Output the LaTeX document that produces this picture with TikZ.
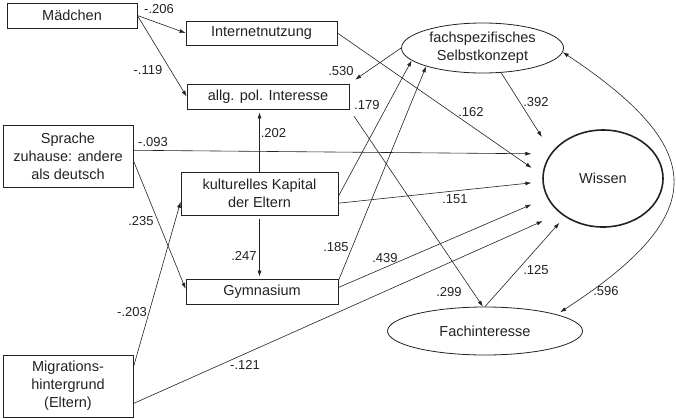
\documentclass[tikz,border=0pt]{standalone}
\usepackage{fontspec}
\setmainfont{Liberation Sans}
\usetikzlibrary{arrows.meta,shapes.geometric}
\definecolor{ink}{RGB}{34,34,34}

\begin{document}
\begin{tikzpicture}[x=1pt, y=-1pt,
    var/.style={draw=ink, line width=0.8pt, inner sep=0pt, align=center, text=ink,
      font=\fontsize{14.5}{18}\selectfont},
    lat/.style={var, ellipse},
    wt/.style={font=\fontsize{13}{15}\selectfont, text=ink, inner sep=0pt},
    path/.style={->, >={Latex[length=6pt,width=4pt]}, line width=0.6pt, color=ink}]
  \useasboundingbox (0,0) rectangle (676,418);

  % ---- manifest variables (left and middle column) ---------------------------
  \node[var, minimum width=130pt, minimum height=25pt] (maed) at (72,15.5) {Mädchen};
  \node[var, minimum width=151pt, minimum height=24pt] (inet) at (261.5,33) {Internetnutzung};
  \node[var, minimum width=162pt, minimum height=25pt] (allg) at (268,96.5) {allg. pol. Interesse};
  \node[var, minimum width=130pt, minimum height=62pt] (spr) at (68,156)
    {Sprache\\zuhause: andere\\als deutsch};
  \node[var, minimum width=157pt, minimum height=43pt] (kult) at (259.5,193.5)
    {kulturelles Kapital\\der Eltern};
  \node[var, minimum width=152pt, minimum height=25pt] (gym) at (262,291.5) {Gymnasium};
  \node[var, minimum width=130pt, minimum height=62pt] (mig) at (68,386)
    {Migrations-\\hintergrund\\(Eltern)};

  % ---- latent variables ------------------------------------------------------
  \node[lat, minimum width=162pt, minimum height=50pt] (fach) at (482.5,48)
    {fachspezifisches\\Selbstkonzept};
  \node[lat, line width=1.6pt, minimum width=120pt, minimum height=97pt] (wis) at (603,178.5) {Wissen};
  \node[lat, minimum width=195pt, minimum height=48pt] (fint) at (485,331) {Fachinteresse};

  % ---- paths -----------------------------------------------------------------
  \draw[path] (maed.east) -- (inet.west);
  \draw[path] (maed.east) -- (allg.west);
  \draw[path, shorten >=13pt] (inet.east) -- (wis.177);
  \draw[path, shorten >=7pt] (fach.west) -- (allg.north east);
  \draw[path, shorten <=8pt] (allg.south east) -- (fint.95);
  \draw[path, shorten >=3pt] (kult.north) -- (kult.north |- allg.south);
  \draw[path, shorten >=19pt] (spr.5) -- (wis.155);
  \draw[path] (spr.-4) -- (gym.178);
  \draw[path] (kult.-2) -- (fach.190);
  \draw[path, shorten >=11pt] (kult.-7) -- (wis.183);
  \draw[path, shorten <=4pt, shorten >=2pt] (kult.south) -- (kult.south |- gym.north);
  \draw[path] (gym.8) -- (fach.198);
  \draw[path, shorten >=17pt] (gym.3) -- (wis.199);
  \draw[path] (mig.16) -- (kult.186);
  \draw[path, shorten >=19pt] (mig.-15) -- (wis.219);
  \draw[path, shorten >=18pt] (fach.-53) -- (wis.153);
  \draw[path, shorten >=8pt] (fint.north) -- (wis.225);

  % correlation of the two latent variables, round the right of Wissen
  \draw[path, <->, shorten >=4pt] (fach.-3) .. controls (710,150) and (710,215) .. (fint.13);

  % ---- path weights ----------------------------------------------------------
  \foreach \w/\x/\y [count=\i] in {-.206/159/9, -.119/148/70, .530/341/71, .179/367/105,
      .162/471/112, .392/536/102, -.093/153/142, .202/273.5/133, .151/455/199,
      .235/141/221, .247/244/256, .185/336/247, .439/385/258, .299/449/292,
      .125/536/270, .596/606/291, -.203/132/312, -.121/245/365} {
    \node[wt] (wt\i) at (\x,\y) {\w};
  }
\end{tikzpicture}
\end{document}
